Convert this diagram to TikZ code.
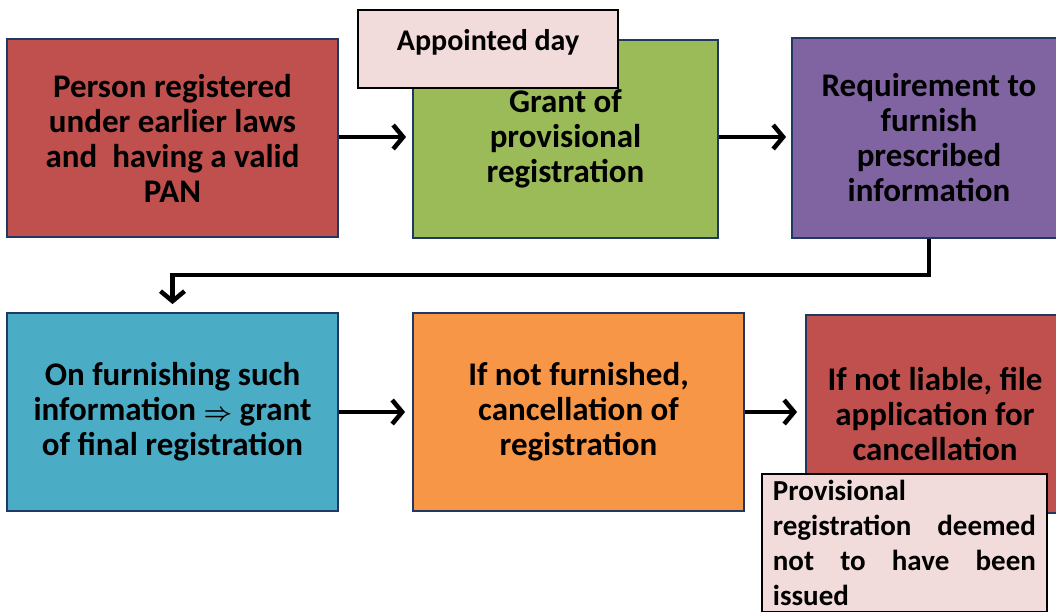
\documentclass[tikz,border=0pt]{standalone}
\usepackage{fontspec}
\setmainfont{Carlito}
\usetikzlibrary{arrows.meta,positioning}
\definecolor{boxred}{HTML}{C0504D}
\definecolor{boxgreen}{HTML}{9BBB59}
\definecolor{boxpurple}{HTML}{8064A2}
\definecolor{boxteal}{HTML}{4BACC6}
\definecolor{boxorange}{HTML}{F79646}
\definecolor{notepink}{HTML}{F2DCDB}
\definecolor{navyline}{HTML}{1F3864}
\tikzset{
  stepbox/.style={draw=navyline, line width=1.8pt, minimum width=331, minimum height=198,
    align=center, font=\bfseries\fontsize{33}{35}\selectfont, inner sep=0pt},
  notebox/.style={draw=black, line width=1.8pt, fill=notepink},
  arr/.style={line width=4.5pt, -{Straight Barb[length=10pt,width=24pt]}}
}
\begin{document}
\begin{tikzpicture}[x=1pt,y=-1pt]
\useasboundingbox (0,0) rectangle (1056,614);
\clip (0,0) rectangle (1056,614);
% first row
\node[stepbox, fill=boxred] (person) at (172.5,138) {Person registered\\under earlier laws\\and~ having a valid\\PAN};
\node[stepbox, fill=boxgreen, minimum width=305] (grant) at (565.5,139) {Grant of\\provisional\\registration};
\node[stepbox, fill=boxpurple, minimum width=274, minimum height=200] (req) at (929,138) {Requirement to\\furnish\\prescribed\\information};
\node[notebox, minimum width=260, minimum height=78] (appt) at (488,49) {};
\node[below=20pt of appt.north, font=\bfseries\fontsize{30}{35}\selectfont, inner sep=0pt] (appttext) {Appointed day};
% second row
\node[stepbox, fill=boxteal] (final) at (172.5,412) {On furnishing such\\information {\boldmath$\Rightarrow$} grant\\of final registration};
\node[stepbox, fill=boxorange] (cancel) at (578.5,412) {If not furnished,\\cancellation of\\registration};
\node[stepbox, fill=boxred, minimum width=258] (liable) at (935,414) {If not liable, file\\application for\\cancellation};
\node[notebox, anchor=north west, text width=263pt, inner sep=11pt, inner ysep=6pt, align=justify,
  font=\bfseries\fontsize{29}{35}\selectfont] (deemed) at (761,473)
  {Provisional\newline registration deemed\linebreak not to have been\linebreak issued\par};
% arrows
\draw[arr, shorten >=6pt] (person.east |- 0,137) -- (grant.west |- 0,137);
\draw[arr, shorten >=5pt] (grant.east |- 0,137) -- (req.west |- 0,137);
\draw[arr, shorten >=8pt] (req.south) -- ++(0,36) -| (final.north);
\draw[arr, shorten >=7pt] (final) -- (cancel);
\draw[arr, shorten >=8pt] (cancel.east) -- (cancel.east -| liable.west);
\end{tikzpicture}
\end{document}
